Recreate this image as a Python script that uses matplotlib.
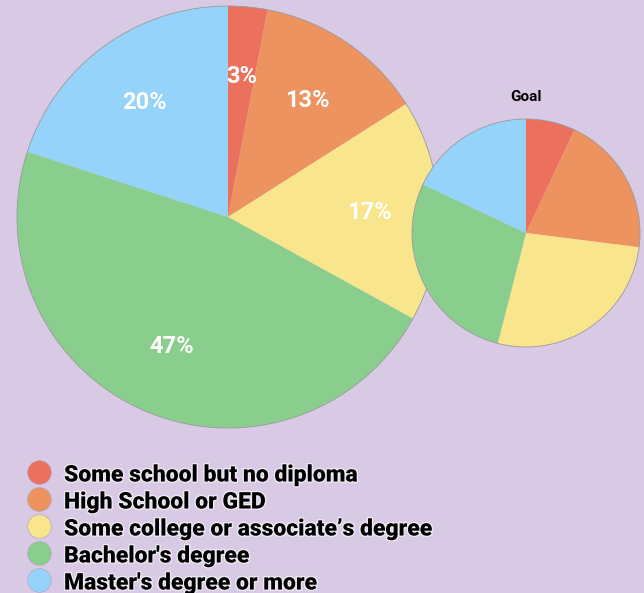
import matplotlib.pyplot as plt
import matplotlib.patches as patches
import matplotlib.patheffects as pe

labels = [
    "Some school but no diploma",
    "High School or GED",
    "Some college or associate\u2019s degree",
    "Bachelor's degree",
    "Master's degree or more",
]
current = [3, 13, 17, 47, 20]
goal = [7, 20, 27, 28, 18]
colors = ["#EC705E", "#EC935F", "#F9E58C", "#89CE8C", "#96D3FA"]

BG = "#D8CAE4"
W, H = 644, 593

plt.rcParams["font.family"] = ["Roboto", "DejaVu Sans"]

fig = plt.figure(figsize=(W / 100, H / 100), dpi=100, facecolor=BG)
ax = fig.add_axes([0, 0, 1, 1])
ax.set_facecolor(BG)

# big pie (current)
big_c, big_r = (228, H - 217), 211
wedges, texts, autotexts = ax.pie(
    current,
    colors=colors,
    startangle=90,
    counterclock=False,
    center=big_c,
    radius=big_r,
    autopct="%d%%",
    pctdistance=0.67,
    wedgeprops=dict(linewidth=0),
    textprops=dict(color="white", fontsize=17, fontweight="bold"),
)
ax.add_patch(patches.Circle(big_c, big_r, fill=False, edgecolor="#9a9a9a", linewidth=0.6))

# small pie (goal)
small_c, small_r = (526, H - 233), 114
ax.pie(
    goal,
    colors=colors,
    startangle=90,
    counterclock=False,
    center=small_c,
    radius=small_r,
    wedgeprops=dict(linewidth=0),
)
ax.add_patch(patches.Circle(small_c, small_r, fill=False, edgecolor="#9a9a9a", linewidth=0.6))
ax.text(small_c[0], H - 97, "Goal", ha="center", va="center",
        fontsize=11, fontweight="bold", color="black")

# legend
glow = [pe.withStroke(linewidth=2, foreground="white", alpha=0.6)]
for i, (lab, col) in enumerate(zip(labels, colors)):
    y = H - (472 + i * 27)
    ax.scatter([39], [y], s=290, color=col, edgecolors="#b0a0b8", linewidths=0.4, zorder=5)
    ax.text(64, y - 3, lab, ha="left", va="center", fontsize=16.5, fontweight="heavy",
            color="black", path_effects=glow)

ax.set_xlim(0, W)
ax.set_ylim(0, H)
ax.set_aspect("equal")
ax.axis("off")

fig.savefig("out.png", dpi=100, facecolor=BG)
